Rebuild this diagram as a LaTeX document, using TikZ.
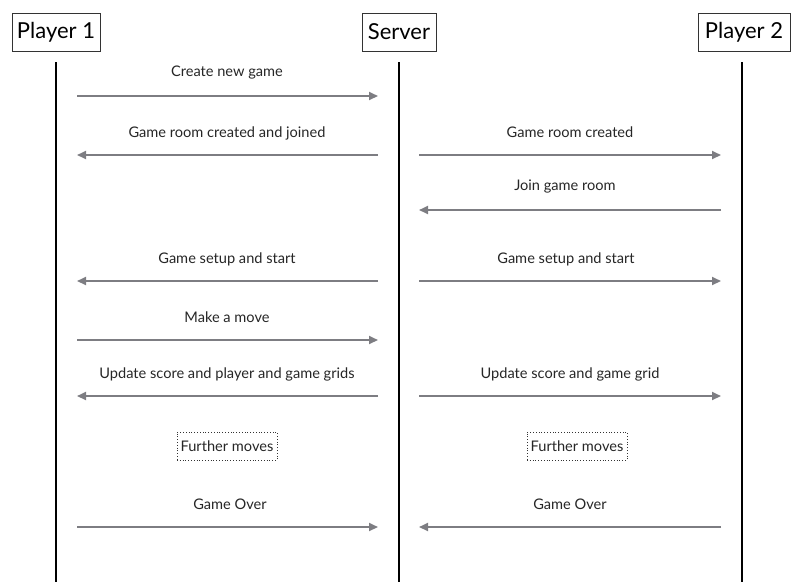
\documentclass[tikz,border=0pt]{standalone}
\usepackage{fontspec}
\setmainfont{Lato}
\usetikzlibrary{arrows.meta}
\definecolor{arrowgray}{RGB}{125,125,130}
\tikzset{
  header/.style={draw=black!80, line width=0.9pt, inner sep=0pt, font=\fontsize{22}{24}\selectfont},
  lifeline/.style={line width=2pt, black},
  msg/.style={line width=2pt, arrowgray, -{Triangle[length=9pt,width=8pt]}},
  lbl/.style={font=\fontsize{14.6}{16}\selectfont, text=black!85, inner sep=0pt},
  further/.style={draw=black!80, dotted, line width=0.8pt, font=\fontsize{14.6}{16}\selectfont, text=black!85, minimum width=100pt, minimum height=28pt, inner sep=0pt}
}
\begin{document}
\begin{tikzpicture}[x=1pt,y=-1pt]
\useasboundingbox (0,0) rectangle (800,582);
% headers
\node[header, minimum width=88pt, minimum height=38pt] (p1) at (56,32) {Player 1};
\node[header, minimum width=74pt, minimum height=38pt] (srv) at (399,32) {Server};
\node[header, minimum width=92pt, minimum height=38pt] (p2) at (744,32) {Player 2};
% lifelines
\coordinate (p1top) at (56,62);   \coordinate (p1bot) at (56,582);
\coordinate (srvtop) at (399,62); \coordinate (srvbot) at (399,582);
\coordinate (p2top) at (742,62);  \coordinate (p2bot) at (742,582);
\draw[lifeline] (p1top) -- (p1bot);
\draw[lifeline] (srvtop) -- (srvbot);
\draw[lifeline] (p2top) -- (p2bot);
% row coordinates
\foreach \n/\y in {a/96,b/155,c/210,d/281,e/340,f/396,g/527}{
  \coordinate (L1\n) at (77,\y);
  \coordinate (L2\n) at (378,\y);
  \coordinate (R1\n) at (419,\y);
  \coordinate (R2\n) at (721,\y);
}
% messages
\draw[msg] (L1a) -- (L2a);
\node[lbl] (ta) at (227,73) {Create new game};
\draw[msg] (L2b) -- (L1b);
\node[lbl] (tb1) at (227,133) {Game room created and joined};
\draw[msg] (R1b) -- (R2b);
\node[lbl] (tb2) at (570,132) {Game room created};
\draw[msg] (R2c) -- (R1c);
\node[lbl] (tc) at (565,187) {Join game room};
\draw[msg] (L2d) -- (L1d);
\node[lbl] (td1) at (227,259) {Game setup and start};
\draw[msg] (R1d) -- (R2d);
\node[lbl] (td2) at (566,259) {Game setup and start};
\draw[msg] (L1e) -- (L2e);
\node[lbl] (te) at (227,317) {Make a move};
\draw[msg] (L2f) -- (L1f);
\node[lbl] (tf1) at (227,374) {Update score and player and game grids};
\draw[msg] (R1f) -- (R2f);
\node[lbl] (tf2) at (570,374) {Update score and game grid};
\node[further] (fm1) at (227,446) {Further moves};
\node[further] (fm2) at (577,446) {Further moves};
\draw[msg] (L1g) -- (L2g);
\node[lbl] (tg1) at (230,504) {Game Over};
\draw[msg] (R2g) -- (R1g);
\node[lbl] (tg2) at (570,504) {Game Over};
\end{tikzpicture}
\end{document}
